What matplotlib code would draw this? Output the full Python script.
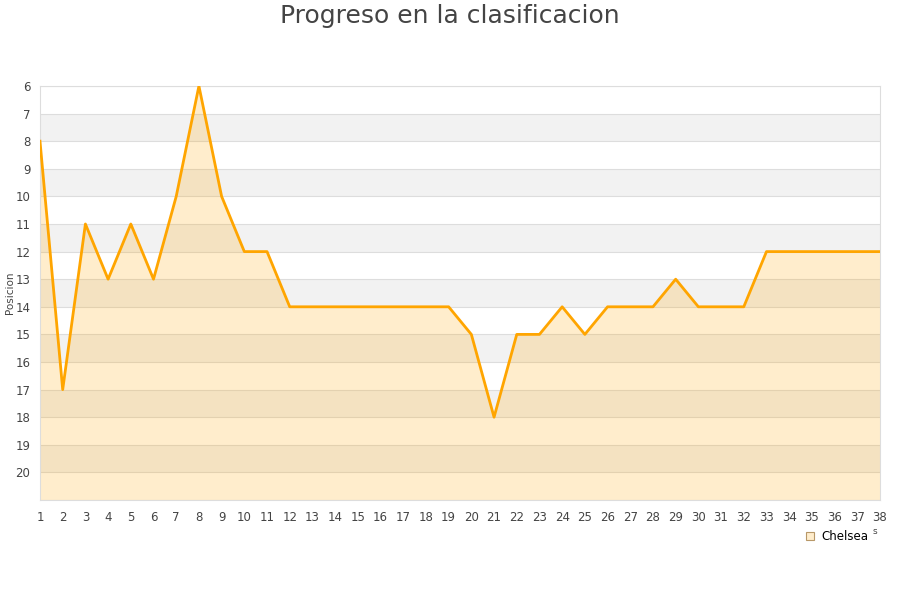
import matplotlib
matplotlib.use("Agg")
import matplotlib.pyplot as plt
from matplotlib.lines import Line2D

jornadas = list(range(1, 39))
posiciones = [8, 17, 11, 13, 11, 13, 10, 6, 10, 12, 12, 14, 14, 14, 14, 14, 14, 14, 14, 15,
              18, 15, 15, 14, 15, 14, 14, 14, 13, 14, 14, 14, 12, 12, 12, 12, 12, 12]
y_ticks = list(range(6, 21))
equipo = "Chelsea"
titulo = "Progreso en la clasificacion"
eje_y = "Posicion"

fig = plt.figure(figsize=(9, 6), dpi=100)
ax = fig.add_axes([40/900, 1-500/600, 840/900, 414/600])

# alternating bands
for b in range(7, 21, 2):
    ax.axhspan(b, b + 1, color="#f2f2f2", zorder=0, lw=0)
for t in range(6, 22):
    ax.axhline(t, color="#dddddd", lw=0.8, zorder=1)

ax.fill_between(jornadas, posiciones, 21, color="#FFA500", alpha=0.2, lw=0, zorder=2)
ax.plot(jornadas, posiciones, color="#FFA500", lw=2, zorder=3)

ax.set_xlim(1, 38)
ax.set_ylim(21, 6)
ax.set_xticks(jornadas)
ax.set_yticks(y_ticks)
ax.tick_params(axis="both", length=0, labelsize=8.5, colors="#444444")
ax.tick_params(axis="x", pad=8)
ax.tick_params(axis="y", pad=7)
for s in ax.spines.values():
    s.set_color("#dddddd")
    s.set_linewidth(0.8)

fig.text(10/900, 1 - 293/600, eje_y, fontsize=7.5, color="#444444", rotation=90,
         ha="center", va="center")
fig.text(0.5, 1 - 16/600, titulo, ha="center", va="center", fontsize=18, color="#444444")

handle = Line2D([], [], marker="s", linestyle="none", markersize=6,
                markerfacecolor="#FFEDCC", markeredgecolor="#b89868", markeredgewidth=0.8)
leg = fig.legend([handle], [equipo], loc="center left", bbox_to_anchor=(798/900, 1 - 537/600),
                 frameon=False, fontsize=8.5, handletextpad=0.5, borderpad=0, handlelength=1)
fig.text(875/900, 1 - 531/600, "s", fontsize=6.5, color="#444444", ha="center", va="center")

fig.savefig("out.png", dpi=100)
